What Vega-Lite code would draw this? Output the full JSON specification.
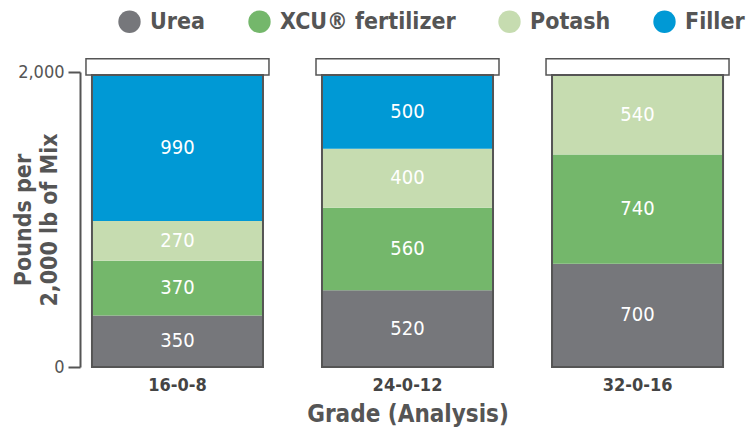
{
  "$schema": "https://vega.github.io/schema/vega-lite/v6.json",
  "width": 655,
  "height": 295,
  "autosize": {"type": "none"},
  "padding": {"left": 80, "top": 72, "right": 14, "bottom": 72},
  "config": {"font": "DejaVu Sans Condensed", "view": {"stroke": null}},
  "data": {
    "values": [
      {"grade": "16-0-8", "component": "Urea", "order": 1, "value": 350},
      {"grade": "16-0-8", "component": "XCU® fertilizer", "order": 2, "value": 370},
      {"grade": "16-0-8", "component": "Potash", "order": 3, "value": 270},
      {"grade": "16-0-8", "component": "Filler", "order": 4, "value": 990},
      {"grade": "24-0-12", "component": "Urea", "order": 1, "value": 520},
      {"grade": "24-0-12", "component": "XCU® fertilizer", "order": 2, "value": 560},
      {"grade": "24-0-12", "component": "Potash", "order": 3, "value": 400},
      {"grade": "24-0-12", "component": "Filler", "order": 4, "value": 500},
      {"grade": "32-0-16", "component": "Urea", "order": 1, "value": 700},
      {"grade": "32-0-16", "component": "XCU® fertilizer", "order": 2, "value": 740},
      {"grade": "32-0-16", "component": "Potash", "order": 3, "value": 540}
    ]
  },
  "transform": [
    {"stack": "value", "groupby": ["grade"], "sort": [{"field": "order", "order": "ascending"}], "as": ["y0", "y1"]},
    {"calculate": "(datum.y0 + datum.y1) / 2", "as": "mid"}
  ],
  "encoding": {
    "x": {
      "field": "grade",
      "type": "nominal",
      "sort": ["16-0-8", "24-0-12", "32-0-16"],
      "scale": {"paddingInner": 0.2565, "paddingOuter": 0.052},
      "axis": {
        "labelAngle": 0,
        "labelFontSize": 18,
        "labelFontWeight": "bold",
        "labelColor": "#444444",
        "domain": false,
        "ticks": false,
        "labelPadding": 9,
        "title": "Grade (Analysis)",
        "titleFontSize": 24,
        "titleFontWeight": "bold",
        "titleColor": "#555555",
        "titlePadding": 8
      }
    }
  },
  "layer": [
    {
      "transform": [{"aggregate": [{"op": "max", "field": "y1", "as": "top"}], "groupby": ["grade"]}],
      "mark": {"type": "bar", "fill": "white", "stroke": "#555555", "strokeWidth": 1.5, "width": {"band": 1.07}},
      "encoding": {
        "y": {
          "field": "top",
          "type": "quantitative",
          "scale": {"domain": [0, 2000], "nice": false},
          "axis": {
            "values": [0, 2000],
            "labelExpr": "format(datum.value, ',')",
            "grid": false,
            "tickSize": 12,
            "tickWidth": 2,
            "tickColor": "#555555",
            "domainColor": "#555555",
            "domainWidth": 2,
            "labelFontSize": 18,
            "labelColor": "#555555",
            "labelPadding": 4,
            "title": ["Pounds per", "2,000 lb of Mix"],
            "titleFontSize": 23,
            "titleFontWeight": "bold",
            "titleColor": "#555555",
            "titlePadding": -44,
            "titleLineHeight": 26
          }
        },
        "y2": {"datum": 2090}
      }
    },
    {
      "mark": {"type": "bar"},
      "encoding": {
        "y": {"field": "y0", "type": "quantitative"},
        "y2": {"field": "y1"},
        "color": {
          "field": "component",
          "type": "nominal",
          "scale": {
            "domain": ["Urea", "XCU® fertilizer", "Potash", "Filler"],
            "range": ["#76777b", "#74b76b", "#c6dcb0", "#0099d5"]
          },
          "legend": {
            "orient": "none",
            "legendX": 38,
            "legendY": -62,
            "direction": "horizontal",
            "title": null,
            "symbolType": "circle",
            "symbolSize": 500,
            "symbolStrokeWidth": 0,
            "symbolOpacity": 1,
            "labelFontSize": 23,
            "labelFontWeight": "bold",
            "labelColor": "#555555",
            "labelOffset": 9,
            "labelLimit": 300,
            "columnPadding": 42
          }
        }
      }
    },
    {
      "transform": [{"aggregate": [{"op": "max", "field": "y1", "as": "top"}], "groupby": ["grade"]}],
      "mark": {"type": "bar", "fill": "transparent", "stroke": "#555555", "strokeWidth": 2},
      "encoding": {
        "y": {"field": "top", "type": "quantitative"},
        "y2": {"datum": 0}
      }
    },
    {
      "mark": {"type": "text", "color": "white", "fontSize": 20, "baseline": "middle", "align": "center"},
      "encoding": {
        "y": {"field": "mid", "type": "quantitative"},
        "text": {"field": "value", "type": "quantitative"}
      }
    }
  ]
}
